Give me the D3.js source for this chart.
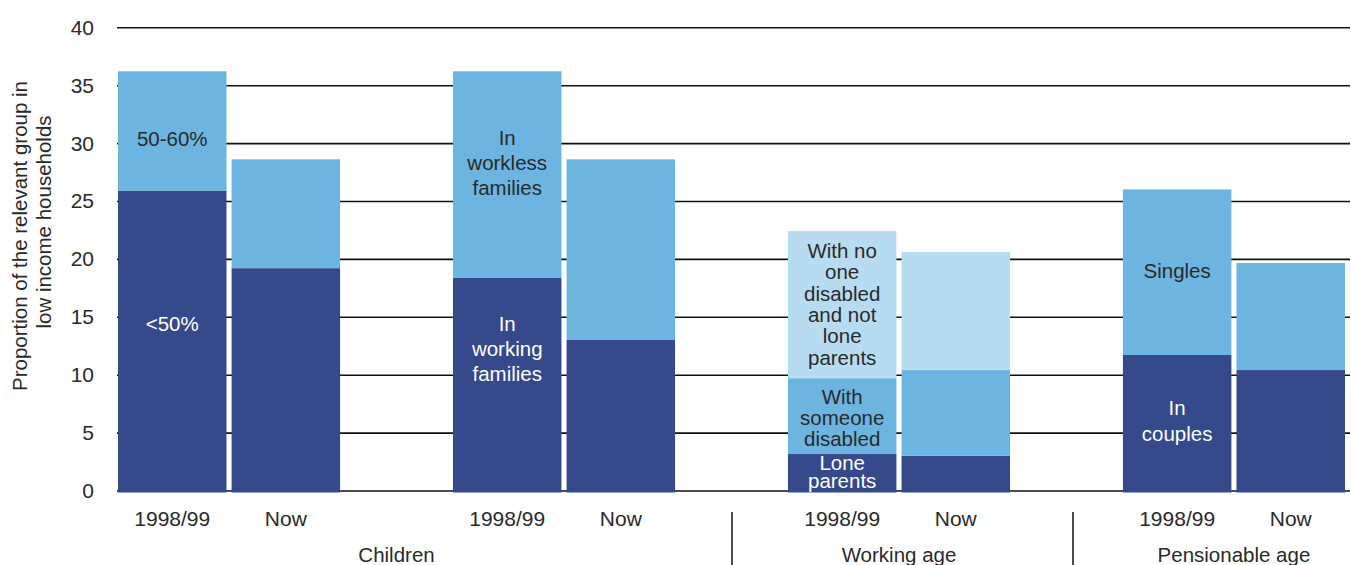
<!DOCTYPE html>
<html><head><meta charset="utf-8">
<script src="https://cdn.jsdelivr.net/npm/d3@7"></script>
<style>
body{margin:0;background:#fff;}
text{font-family:"Liberation Sans",Arial,Helvetica,sans-serif;}
</style>
</head><body>
<svg id="chart" width="1351" height="565"></svg>
<script>
// ---- data ----
const panels = ["childIncome", "childWork", "workingAge", "pensionable"];
const panelGroups = ["Children", "Children", "Working age", "Pensionable age"];
const periods = ["1998/99", "Now"];
const yTicks = [0, 5, 10, 15, 20, 25, 30, 35, 40];
const yTitleLines = ["Proportion of the relevant group in", "low income households"];

const childBelow50 = [25.9, 19.2];
const child50to60 = [10.3, 9.4];
const childWorkingFamilies = [18.35, 13.0];
const childWorklessFamilies = [17.85, 15.6];
const waLoneParents = [3.15, 3.0];
const waSomeoneDisabled = [6.55, 7.4];
const waOther = [12.7, 10.2];
const penCouples = [11.7, 10.4];
const penSingles = [14.3, 9.25];

// labels: text lines and the value (y) at which the block is centred
const segLabels = [
  {panel: "childIncome", series: 1, lines: ["50-60%"], at: 30.35, lh: 25},
  {panel: "childIncome", series: 0, lines: ["<50%"], at: 14.4, lh: 25},
  {panel: "childWork", series: 1, lines: ["In", "workless", "families"], at: 28.3, lh: 25},
  {panel: "childWork", series: 0, lines: ["In", "working", "families"], at: 12.2, lh: 25},
  {panel: "workingAge", series: 2, lines: ["With no", "one", "disabled", "and not", "lone", "parents"], at: 16.1, lh: 21.4},
  {panel: "workingAge", series: 1, lines: ["With", "someone", "disabled"], at: 6.26, lh: 21},
  {panel: "workingAge", series: 0, lines: ["Lone", "parents"], at: 1.6, lh: 18},
  {panel: "pensionable", series: 1, lines: ["Singles"], at: 18.95, lh: 25},
  {panel: "pensionable", series: 0, lines: ["In", "couples"], at: 6.0, lh: 26}
];

// ---- styles ----
const DARK = "#35498b", MID = "#6cb5e1", LIGHT = "#b7dcf1";
const TEXT = "#2a2a2a";
const FS = 20.5;
const stacksByPanel = {
  childIncome: [{v: childBelow50, c: DARK}, {v: child50to60, c: MID}],
  childWork: [{v: childWorkingFamilies, c: DARK}, {v: childWorklessFamilies, c: MID}],
  workingAge: [{v: waLoneParents, c: DARK}, {v: waSomeoneDisabled, c: MID}, {v: waOther, c: LIGHT}],
  pensionable: [{v: penCouples, c: DARK}, {v: penSingles, c: MID}]
};

const W = 1351, H = 565;
const left = 118, right = 1345;
const svg = d3.select("#chart");

const x0 = d3.scaleBand().domain(panels).range([left, right]).paddingInner(0.337).paddingOuter(0);
const x1 = d3.scaleBand().domain(periods).range([0, x0.bandwidth()]).paddingInner(0.045);
const y = d3.scaleLinear().domain([0, 40]).range([490.5, 27.3]);

// gridlines + tick labels
const yAxis = d3.axisLeft(y).tickValues(yTicks).tickSize(-(W - left)).tickPadding(22);
const gy = svg.append("g").attr("transform", `translate(${left - 1},0)`).call(yAxis);
gy.select(".domain").remove();
gy.selectAll(".tick line").attr("stroke", "#111").attr("stroke-width", 1.6);
gy.selectAll(".tick text").attr("fill", TEXT).attr("font-size", 21).attr("dy", "0.33em")
  .attr("x", -23);

// bars
panels.forEach(p => {
  const series = stacksByPanel[p];
  const g = svg.append("g").attr("transform", `translate(${x0(p)},0)`);
  periods.forEach((per, i) => {
    let base = 0;
    series.forEach(s => {
      const top = base + s.v[i];
      g.append("rect")
        .attr("x", x1(per)).attr("width", x1.bandwidth())
        .attr("y", y(top)).attr("height", y(base) - y(top) + (base === 0 ? 2 : 0))
        .attr("fill", s.c);
      base = top;
    });
  });
});

// segment labels (on the 1998/99 bars)
segLabels.forEach(l => {
  const cx = x0(l.panel) + x1(periods[0]) + x1.bandwidth() / 2;
  const color = stacksByPanel[l.panel][l.series].c === DARK ? "#fff" : TEXT;
  const n = l.lines.length;
  const cy = y(l.at);
  const t = svg.append("text").attr("text-anchor", "middle").attr("fill", color).attr("font-size", FS);
  l.lines.forEach((line, k) => {
    t.append("tspan").attr("x", cx).attr("y", cy + (k - (n - 1) / 2) * l.lh).attr("dy", "0.35em").text(line);
  });
});

// period labels
panels.forEach(p => {
  periods.forEach(per => {
    svg.append("text").attr("x", x0(p) + x1(per) + x1.bandwidth() / 2).attr("y", 519)
      .attr("dy", "0.35em").attr("text-anchor", "middle").attr("fill", TEXT).attr("font-size", 21).text(per);
  });
});

// group labels
const groupNames = Array.from(new Set(panelGroups));
groupNames.forEach(gname => {
  const ps = panels.filter((p, i) => panelGroups[i] === gname);
  const xa = x0(ps[0]);
  const xb = x0(ps[ps.length - 1]) + x0.bandwidth();
  svg.append("text").attr("x", (xa + xb) / 2).attr("y", 555).attr("dy", "0.35em")
    .attr("text-anchor", "middle").attr("fill", TEXT).attr("font-size", FS).text(gname);
});

// separators between groups
const gapHalf = x0.step() * x0.paddingInner() / 2;
panels.forEach((p, i) => {
  if (i > 0 && panelGroups[i] !== panelGroups[i - 1]) {
    const sx = Math.round(x0(p) - gapHalf) + (i === 3 ? 7 : 0);
    svg.append("line").attr("x1", sx).attr("x2", sx).attr("y1", 512).attr("y2", H)
      .attr("stroke", "#111").attr("stroke-width", 1.5);
  }
});

// y title
const yt = svg.append("text").attr("transform", "rotate(-90)").attr("text-anchor", "middle")
  .attr("fill", TEXT).attr("font-size", 20.5);
yt.append("tspan").attr("x", -236).attr("y", 20).attr("dy", "0.35em").text(yTitleLines[0]);
yt.append("tspan").attr("x", -222).attr("y", 44).attr("dy", "0.35em").text(yTitleLines[1]);
</script>
</body></html>
